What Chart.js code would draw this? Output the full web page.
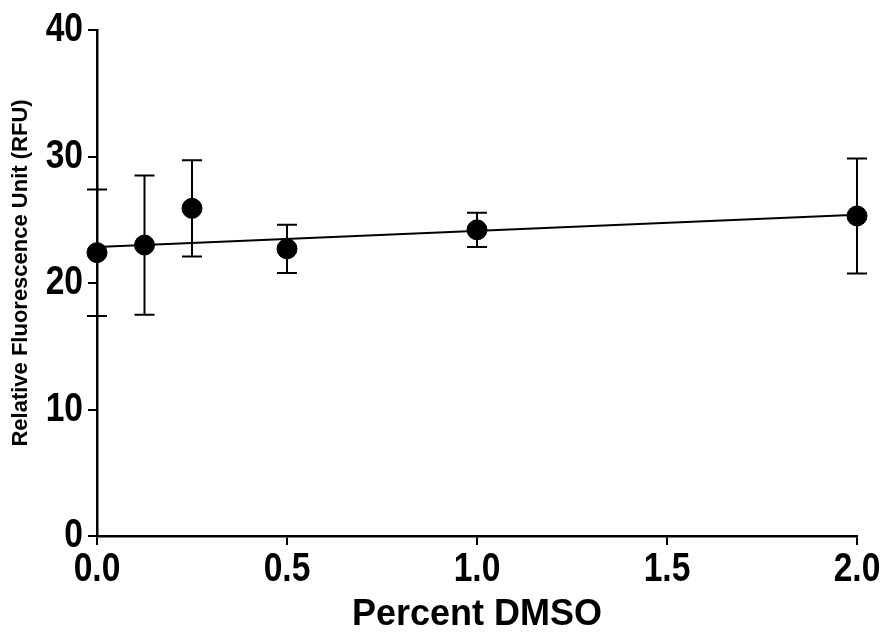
<!DOCTYPE html>
<html>
<head>
<meta charset="utf-8">
<script src="https://cdn.jsdelivr.net/npm/chart.js@4.4.1/dist/chart.umd.min.js"></script>
<style>
  html, body { margin: 0; padding: 0; background: #fff; }
  #wrap { width: 888px; height: 634px; }
</style>
</head>
<body>
<div id="wrap"><canvas id="dmso"></canvas></div>
<script>
// percent DMSO and mean RFU with error (+/-)
const dmso = [0, 0.125, 0.25, 0.5, 1.0, 2.0];
const rfu = [22.4, 23.0, 25.9, 22.7, 24.2, 25.3];
const rfuErr = [5.0, 5.5, 3.8, 1.9, 1.35, 4.55];

// linear fit line, read at the ends
const fitX = [0, 2.0];
const fitY = [22.85, 25.4];

const xTicks = [0, 0.5, 1.0, 1.5, 2.0];
const yTicks = [0, 10, 20, 30, 40];
const yTitle = 'Relative Fluorescence Unit (RFU)';

const FONT = "'Liberation Sans', Arial, sans-serif";

// error bars with caps
const errorBars = {
    id: 'errorBars',
    afterDatasetsDraw: function (chart) {
        const ctx = chart.ctx;
        const xs = chart.scales.x, ys = chart.scales.y;
        ctx.save();
        ctx.strokeStyle = '#000';
        ctx.lineWidth = 2;
        dmso.forEach(function (d, i) {
            const px = xs.getPixelForValue(d);
            const top = ys.getPixelForValue(rfu[i] + rfuErr[i]);
            const bot = ys.getPixelForValue(rfu[i] - rfuErr[i]);
            ctx.beginPath();
            ctx.moveTo(px, top); ctx.lineTo(px, bot);
            ctx.moveTo(px - 10, top); ctx.lineTo(px + 10, top);
            ctx.moveTo(px - 10, bot); ctx.lineTo(px + 10, bot);
            ctx.stroke();
        });
        ctx.restore();
    }
};

// condensed bold tick labels and the y title
const labels = {
    id: 'labels',
    afterDraw: function (chart) {
        const ctx = chart.ctx;
        const xs = chart.scales.x, ys = chart.scales.y;
        ctx.save();
        ctx.fillStyle = '#000';
        ctx.font = 'bold 40px ' + FONT;
        ctx.textBaseline = 'middle';
        yTicks.forEach(function (v) {
            ctx.save();
            ctx.translate(xs.left - 14, ys.getPixelForValue(v));
            ctx.scale(0.84, 1);
            ctx.textAlign = 'right';
            ctx.fillText(String(v), 0, 0);
            ctx.restore();
        });
        xTicks.forEach(function (v) {
            ctx.save();
            ctx.translate(xs.getPixelForValue(v), ys.bottom + 34);
            ctx.scale(0.84, 1);
            ctx.textAlign = 'center';
            ctx.fillText(v.toFixed(1), 0, 0);
            ctx.restore();
        });
        ctx.translate(21, 273);
        ctx.rotate(-Math.PI / 2);
        ctx.font = 'bold 22px ' + FONT;
        ctx.textAlign = 'center';
        ctx.fillText(yTitle, 0, 0);
        ctx.restore();
    }
};

new Chart(document.getElementById('dmso'), {
    type: 'scatter',
    data: {
        datasets: [{
            label: 'fit',
            type: 'line',
            data: fitX.map(function (x, i) { return { x: x, y: fitY[i] }; }),
            borderColor: '#000',
            borderWidth: 2,
            pointRadius: 0,
            fill: false,
            clip: false
        }, {
            label: 'RFU',
            data: dmso.map(function (x, i) { return { x: x, y: rfu[i] }; }),
            backgroundColor: '#000',
            borderColor: '#000',
            pointRadius: 10,
            pointHoverRadius: 10,
            clip: false
        }]
    },
    options: {
        responsive: true,
        maintainAspectRatio: false,
        animation: false,
        layout: { padding: { top: 30, right: 31, left: 0, bottom: 0 } },
        plugins: {
            legend: { display: false },
            tooltip: { enabled: false }
        },
        scales: {
            x: {
                type: 'linear',
                min: 0, max: 2,
                afterBuildTicks: function (s) { s.ticks = xTicks.map(function (v) { return { value: v }; }); },
                afterFit: function (s) { s.height = 98; },
                grid: { drawOnChartArea: false, color: '#000', lineWidth: 2, tickLength: 9 },
                border: { color: '#000', width: 2.5 },
                ticks: { color: 'rgba(0,0,0,0)', font: { size: 30 } },
                title: {
                    display: true, text: 'Percent DMSO', color: '#000',
                    font: { family: FONT, size: 36, weight: 'bold', lineHeight: 1 },
                    padding: { top: 0, bottom: 1 }
                }
            },
            y: {
                min: 0, max: 40,
                afterBuildTicks: function (s) { s.ticks = yTicks.map(function (v) { return { value: v }; }); },
                afterFit: function (s) { s.width = 97; },
                grid: { drawOnChartArea: false, color: '#000', lineWidth: 2, tickLength: 9 },
                border: { color: '#000', width: 2.5 },
                ticks: { color: 'rgba(0,0,0,0)', font: { size: 30 } }
            }
        }
    },
    plugins: [errorBars, labels]
});
</script>
</body>
</html>
